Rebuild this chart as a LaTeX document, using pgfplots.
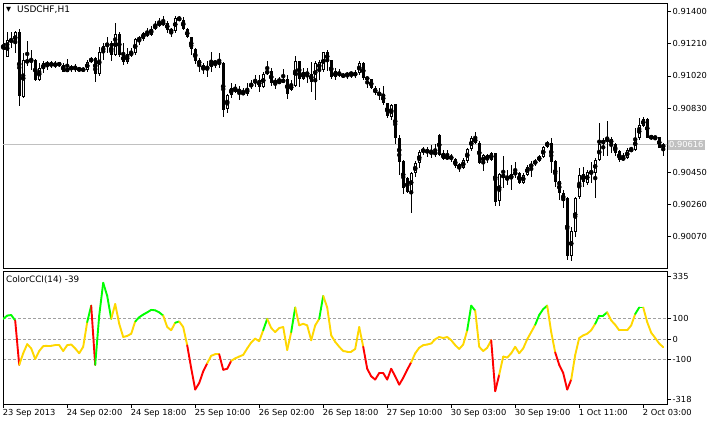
\documentclass[border=0pt]{standalone}
\usepackage{fontspec}
\setmainfont{DejaVu Sans}
\usepackage{pgfplots}
\usepackage{pgfplotstable}
\pgfplotsset{compat=1.18}
\definecolor{priceGray}{RGB}{192,192,192}
\definecolor{gridGray}{RGB}{160,160,160}

\pgfplotstableread{
i o h l c
0 0.91175 0.91253 0.91125 0.91214
1 0.91135 0.91283 0.91131 0.91234
2 0.91226 0.91283 0.91184 0.91232
3 0.91214 0.91287 0.91155 0.91279
4 0.91279 0.91297 0.90844 0.90903
5 0.90899 0.91155 0.90889 0.91115
6 0.91104 0.91224 0.91076 0.91110
7 0.91115 0.91175 0.91056 0.91106
8 0.91115 0.91119 0.90991 0.90997
9 0.90997 0.91096 0.90991 0.91066
10 0.91060 0.91110 0.91037 0.91096
11 0.91096 0.91110 0.91056 0.91086
12 0.91084 0.91110 0.91066 0.91096
13 0.91092 0.91106 0.91066 0.91084
14 0.91084 0.91106 0.91076 0.91096
15 0.91086 0.91096 0.91041 0.91046
16 0.91046 0.91119 0.91041 0.91066
17 0.91064 0.91086 0.91046 0.91070
18 0.91076 0.91092 0.91046 0.91056
19 0.91066 0.91076 0.91046 0.91052
20 0.91060 0.91070 0.91046 0.91056
21 0.91056 0.91115 0.91046 0.91106
22 0.91102 0.91135 0.91096 0.91125
23 0.91129 0.91135 0.90987 0.91033
24 0.91033 0.91190 0.91021 0.91165
25 0.91161 0.91218 0.91115 0.91198
26 0.91198 0.91249 0.91155 0.91214
27 0.91214 0.91224 0.91111 0.91145
28 0.91145 0.91332 0.91141 0.91267
29 0.91267 0.91283 0.91135 0.91145
30 0.91149 0.91214 0.91086 0.91100
31 0.91100 0.91184 0.91090 0.91149
32 0.91155 0.91184 0.91131 0.91149
33 0.91155 0.91243 0.91145 0.91238
34 0.91234 0.91257 0.91204 0.91243
35 0.91238 0.91283 0.91228 0.91273
36 0.91273 0.91303 0.91253 0.91263
37 0.91263 0.91316 0.91257 0.91297
38 0.91297 0.91348 0.91289 0.91322
39 0.91322 0.91362 0.91312 0.91332
40 0.91336 0.91372 0.91316 0.91328
41 0.91336 0.91348 0.91277 0.91293
42 0.91293 0.91303 0.91253 0.91283
43 0.91287 0.91375 0.91277 0.91362
44 0.91362 0.91375 0.91348 0.91352
45 0.91352 0.91368 0.91293 0.91297
46 0.91297 0.91303 0.91243 0.91249
47 0.91249 0.91253 0.91145 0.91178
48 0.91178 0.91184 0.91092 0.91111
49 0.91115 0.91125 0.91046 0.91086
50 0.91086 0.91096 0.91033 0.91056
51 0.91060 0.91110 0.91017 0.91076
52 0.91076 0.91165 0.91046 0.91100
53 0.91106 0.91115 0.91066 0.91096
54 0.91104 0.91155 0.91066 0.91092
55 0.91100 0.91106 0.90781 0.90820
56 0.90824 0.90915 0.90804 0.90909
57 0.90909 0.90978 0.90889 0.90948
58 0.90948 0.90974 0.90918 0.90928
59 0.90938 0.90962 0.90879 0.90928
60 0.90924 0.90948 0.90905 0.90913
61 0.90913 0.90978 0.90899 0.90948
62 0.90954 0.90997 0.90942 0.90978
63 0.90978 0.91027 0.90958 0.90997
64 0.90997 0.91027 0.90928 0.90958
65 0.90954 0.91041 0.90948 0.91033
66 0.91033 0.91106 0.91027 0.91052
67 0.91052 0.91066 0.90962 0.90978
68 0.90991 0.91007 0.90942 0.90981
69 0.90978 0.91017 0.90974 0.90991
70 0.90997 0.91060 0.90978 0.90987
71 0.91003 0.91027 0.90885 0.90913
72 0.90938 0.90997 0.90934 0.90968
73 0.90962 0.91139 0.90954 0.91110
74 0.91110 0.91110 0.90952 0.91003
75 0.91003 0.91066 0.90997 0.91046
76 0.91037 0.91066 0.90981 0.91031
77 0.91033 0.91106 0.90924 0.90987
78 0.90987 0.91110 0.90879 0.91096
79 0.91056 0.91115 0.90997 0.91106
80 0.91056 0.91165 0.91046 0.91161
81 0.91161 0.91175 0.91052 0.91111
82 0.91115 0.91115 0.91003 0.91011
83 0.91013 0.91066 0.90997 0.91046
84 0.91046 0.91060 0.91013 0.91021
85 0.91027 0.91037 0.91007 0.91017
86 0.91021 0.91046 0.91003 0.91037
87 0.91041 0.91046 0.91007 0.91027
88 0.91021 0.91052 0.91007 0.91041
89 0.91037 0.91110 0.91027 0.91096
90 0.91096 0.91100 0.90997 0.91011
91 0.91011 0.91017 0.90948 0.91001
92 0.91003 0.91003 0.90942 0.90948
93 0.90948 0.90962 0.90909 0.90918
94 0.90922 0.90948 0.90879 0.90909
95 0.90913 0.90962 0.90849 0.90863
96 0.90863 0.90863 0.90771 0.90781
97 0.90781 0.90853 0.90761 0.90849
98 0.90853 0.90853 0.90617 0.90652
99 0.90652 0.90672 0.90436 0.90515
100 0.90518 0.90524 0.90323 0.90357
101 0.90416 0.90426 0.90327 0.90337
102 0.90337 0.90455 0.90209 0.90446
103 0.90446 0.90515 0.90426 0.90505
104 0.90505 0.90583 0.90475 0.90574
105 0.90574 0.90603 0.90554 0.90587
106 0.90583 0.90603 0.90544 0.90570
107 0.90570 0.90613 0.90534 0.90564
108 0.90574 0.90619 0.90544 0.90554
109 0.90672 0.90678 0.90548 0.90554
110 0.90564 0.90583 0.90524 0.90528
111 0.90544 0.90583 0.90524 0.90534
112 0.90548 0.90560 0.90515 0.90528
113 0.90528 0.90534 0.90475 0.90491
114 0.90499 0.90505 0.90455 0.90475
115 0.90475 0.90534 0.90469 0.90524
116 0.90520 0.90593 0.90505 0.90587
117 0.90587 0.90668 0.90580 0.90656
118 0.90656 0.90692 0.90617 0.90623
119 0.90627 0.90633 0.90501 0.90505
120 0.90505 0.90560 0.90461 0.90554
121 0.90554 0.90560 0.90505 0.90524
122 0.90524 0.90574 0.90520 0.90564
123 0.90564 0.90568 0.90253 0.90278
124 0.90278 0.90446 0.90249 0.90442
125 0.90442 0.90550 0.90357 0.90416
126 0.90420 0.90465 0.90377 0.90410
127 0.90410 0.90495 0.90347 0.90442
128 0.90440 0.90511 0.90416 0.90450
129 0.90450 0.90454 0.90383 0.90387
130 0.90387 0.90446 0.90381 0.90436
131 0.90436 0.90495 0.90430 0.90485
132 0.90485 0.90518 0.90426 0.90499
133 0.90501 0.90528 0.90491 0.90518
134 0.90520 0.90554 0.90515 0.90544
135 0.90540 0.90607 0.90534 0.90603
136 0.90603 0.90637 0.90593 0.90633
137 0.90627 0.90652 0.90446 0.90515
138 0.90518 0.90524 0.90367 0.90396
139 0.90400 0.90485 0.90288 0.90327
140 0.90327 0.90347 0.90239 0.90284
141 0.90302 0.90308 0.89933 0.89957
142 0.89957 0.90130 0.89927 0.90107
143 0.90101 0.90308 0.90071 0.90302
144 0.90302 0.90475 0.90292 0.90436
145 0.90442 0.90485 0.90367 0.90391
146 0.90391 0.90465 0.90377 0.90452
147 0.90455 0.90509 0.90387 0.90450
148 0.90450 0.90534 0.90298 0.90524
149 0.90524 0.90745 0.90520 0.90617
150 0.90617 0.90652 0.90544 0.90643
151 0.90647 0.90755 0.90544 0.90639
152 0.90647 0.90662 0.90564 0.90619
153 0.90619 0.90623 0.90548 0.90568
154 0.90574 0.90580 0.90509 0.90524
155 0.90524 0.90564 0.90520 0.90540
156 0.90534 0.90593 0.90528 0.90583
157 0.90587 0.90603 0.90574 0.90580
158 0.90583 0.90712 0.90580 0.90656
159 0.90656 0.90771 0.90643 0.90731
160 0.90725 0.90777 0.90717 0.90767
161 0.90767 0.90771 0.90652 0.90656
162 0.90662 0.90672 0.90639 0.90656
163 0.90660 0.90666 0.90639 0.90652
164 0.90658 0.90662 0.90593 0.90597
165 0.90597 0.90627 0.90548 0.90616
}\candles

\pgfplotstableread{
i v k
0 100 2
1 116 2
2 119 2
3 92 0
4 -126 1
5 -69 1
6 -24 1
7 -45 1
8 -97 1
9 -58 1
10 -34 1
11 -32 1
12 -32 1
13 -29 1
14 -29 1
15 -58 1
16 -29 1
17 -26 1
18 -45 1
19 -69 1
20 -37 1
21 84 2
22 165 0
23 -126 2
24 116 2
25 277 2
26 213 2
27 100 1
28 173 1
29 76 1
30 11 1
31 16 1
32 27 1
33 87 2
34 108 2
35 121 2
36 132 2
37 144 2
38 142 2
39 132 2
40 116 1
41 60 1
42 44 1
43 81 2
44 87 1
45 60 1
46 -30 0
47 -142 0
48 -247 0
49 -215 0
50 -158 0
51 -118 1
52 -81 1
53 -74 1
54 -74 0
55 -150 0
56 -145 0
57 -106 1
58 -94 1
59 -85 1
60 -77 1
61 -45 1
62 -16 1
63 3 1
64 -10 1
65 44 2
66 100 1
67 55 1
68 35 1
69 55 1
70 60 1
71 -53 1
72 35 2
73 156 1
74 68 1
75 76 1
76 68 1
77 -5 1
78 68 1
79 100 2
80 213 1
81 156 1
82 19 1
83 -13 1
84 -37 1
85 -58 1
86 -61 1
87 -61 1
88 -48 1
89 60 1
90 -37 0
91 -145 0
92 -182 0
93 -198 0
94 -166 0
95 -166 0
96 -198 0
97 -145 0
98 -182 0
99 -223 0
100 -190 0
101 -150 0
102 -113 1
103 -69 1
104 -42 1
105 -29 1
106 -26 1
107 -21 1
108 0 1
109 11 1
110 6 1
111 11 1
112 -5 1
113 -29 1
114 -48 1
115 -26 1
116 44 2
117 165 2
118 140 1
119 -37 1
120 -58 1
121 -42 1
122 -5 0
123 -255 0
124 -174 1
125 -85 1
126 -90 1
127 -69 1
128 -37 1
129 -69 1
130 -45 1
131 0 1
132 35 1
133 71 2
134 119 2
135 148 2
136 165 1
137 35 1
138 -65 0
139 -126 0
140 -166 0
141 -247 0
142 -198 1
143 -77 1
144 6 1
145 19 1
146 27 1
147 44 1
148 76 2
149 116 2
150 116 2
151 132 1
152 92 1
153 71 1
154 44 1
155 44 1
156 44 1
157 68 1
158 124 2
159 156 2
160 156 1
161 84 1
162 32 1
163 6 1
164 -21 1
165 -39 1
}\cci

\begin{document}
\begin{tikzpicture}[x=1bp,y=1bp,font=\fontsize{8.3bp}{10bp}\selectfont]
\useasboundingbox (0,0) rectangle (708,424);
\pgfplotsset{
  mtstyle/.style={
    scale only axis, anchor=south west,
    xmin=-0.05, xmax=165.95,
    axis line style={line width=0.8bp},
    tick align=outside, major tick length=4bp,
    tick style={black, line width=0.8bp},
    ytick pos=right, yticklabel pos=right,
    yticklabel style={inner sep=1.5bp},
  }
}
\begin{axis}[mtstyle,
  at={(3bp,156bp)}, width=664bp, height=265bp,
  ymin=0.89885, ymax=0.91451,
  xtick=\empty,
  ytick={0.9007,0.9026,0.9045,0.9064,0.9083,0.9102,0.9121,0.9140},
  yticklabels={0.90070,0.90260,0.90450,{},0.90830,0.91020,0.91210,0.91400},
]
\addplot[priceGray, line width=0.8bp, forget plot] coordinates {(-1,0.90616) (167,0.90616)};
% wicks
\addplot[only marks, mark=none, forget plot,
  error bars/.cd, y dir=both, y explicit, error mark=none,
  error bar style={draw=black, solid, line width=1bp}]
  table[x=i, y expr={(\thisrow{h}+\thisrow{l})/2}, y error expr={(\thisrow{h}-\thisrow{l})/2}] {\candles};
% bodies
\addplot[only marks, mark=none, forget plot,
  error bars/.cd, y dir=both, y explicit, error mark=none,
  error bar style={draw=black, solid, line width=3bp}]
  table[x=i, y expr={(\thisrow{o}+\thisrow{c})/2}, y error expr={max(abs(\thisrow{c}-\thisrow{o})/2,0.00003)}] {\candles};
% hollow interior of rising candles
\addplot[only marks, mark=none, forget plot,
  error bars/.cd, y dir=both, y explicit, error mark=none,
  error bar style={draw=white, solid, line width=1bp}]
  table[x=i, y expr={(\thisrow{o}+\thisrow{c})/2}, y error expr={\thisrow{c}>\thisrow{o} ? max((\thisrow{c}-\thisrow{o})/2-0.0000591,0) : 0}] {\candles};
\end{axis}

\begin{axis}[mtstyle,
  at={(3bp,20bp)}, width=664bp, height=133bp,
  ymin=-318, ymax=335,
  xtick={0,16,...,160},
  xticklabels={23 Sep 2013,24 Sep 02:00,24 Sep 18:00,25 Sep 10:00,26 Sep 02:00,26 Sep 18:00,27 Sep 10:00,30 Sep 03:00,30 Sep 19:00,1 Oct 11:00,2 Oct 03:00},
  xtick pos=bottom,
  xticklabel style={anchor=north west, inner sep=0bp, yshift=-1.5bp, xshift=-0.5bp},
  ytick={-100,0,100}, yticklabels={-100,0,100},
  extra y ticks={-294,310}, extra y tick labels={-318,335},
  extra y tick style={grid=none},
  ymajorgrids, grid style={gridGray, dash pattern=on 3bp off 2bp, line width=0.8bp},
  colormap={cci}{rgb255=(255,0,0) rgb255=(255,215,0) rgb255=(0,255,0)},
]
\addplot[mesh, shader=flat corner, colormap access=direct, point meta=\thisrow{k}, line width=1.9bp, line cap=round] table[x=i, y=v] {\cci};
\end{axis}

\node[anchor=west, inner sep=0bp] at (6,414.6) {\fontsize{6.5bp}{6.5bp}\selectfont ▼};
\node[anchor=west, inner sep=0bp] at (17,414.6) {\fontsize{9bp}{10bp}\selectfont USDCHF,H1};
\node[anchor=west, inner sep=0bp] at (6,144) {\fontsize{8.8bp}{10bp}\selectfont ColorCCI(14) -39};
\node[anchor=west, fill=priceGray, text=white, inner sep=1bp, minimum height=10bp] at (668,279.5) {0.90616};
\end{tikzpicture}
\end{document}
